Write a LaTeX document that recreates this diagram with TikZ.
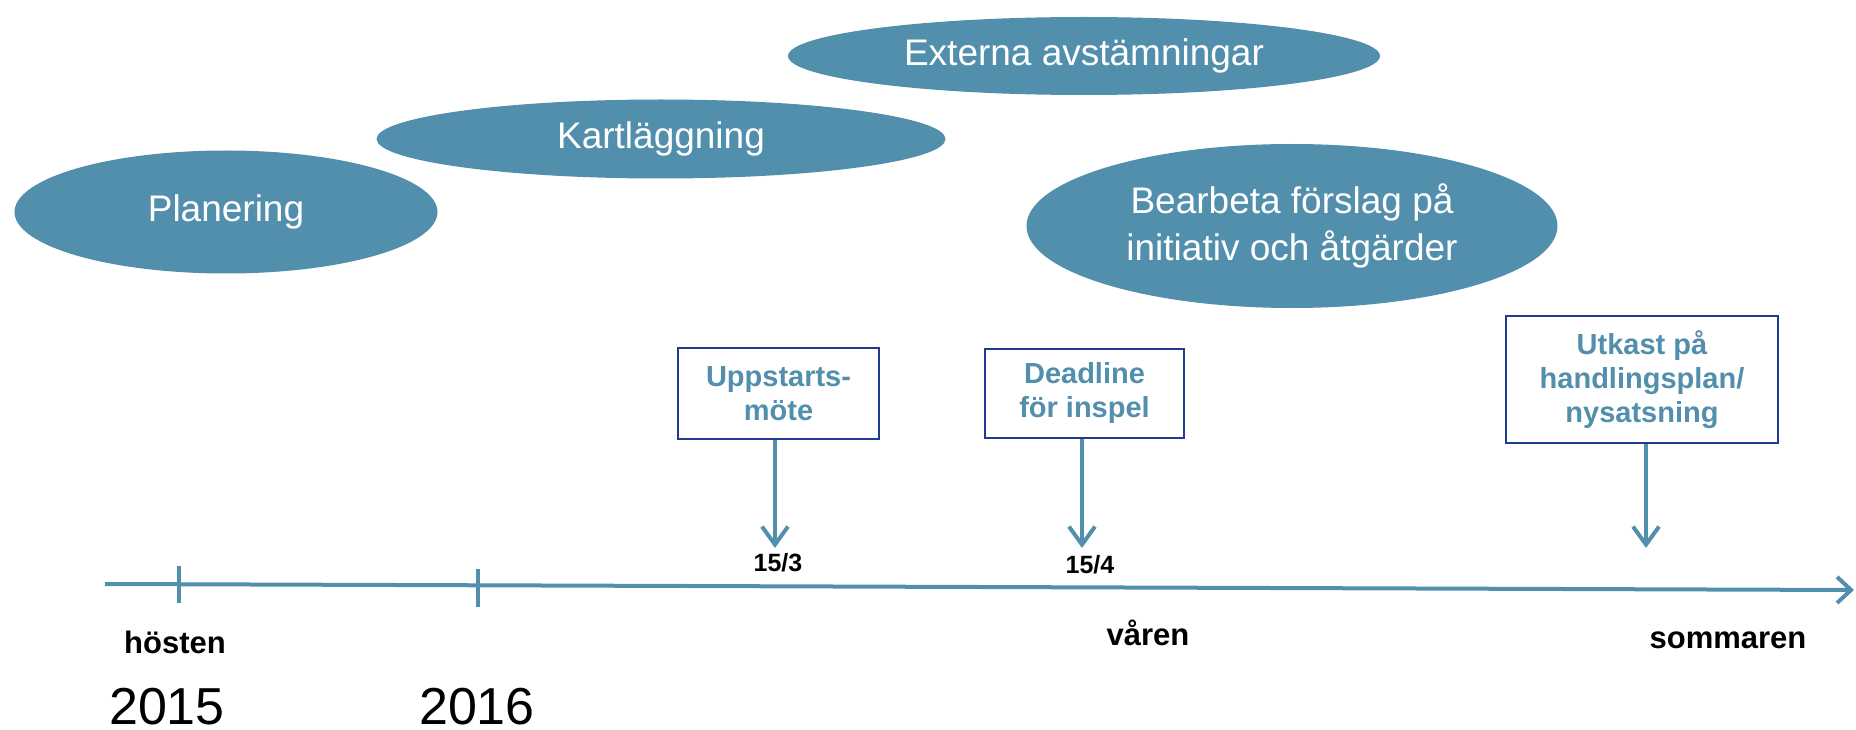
\documentclass[tikz,border=0pt]{standalone}
\usepackage{fontspec}
\setmainfont{Liberation Sans}
\usetikzlibrary{shapes.geometric,arrows.meta}
\definecolor{teal1}{HTML}{528FAC}
\definecolor{boxblue}{HTML}{1F3C8F}
\tikzset{
  phase/.style={ellipse, fill=teal1, draw=none, inner sep=0pt, text=white, align=center, font=\fontsize{37}{47}\selectfont},
  mile/.style={rectangle, draw=boxblue, line width=2pt, fill=white, inner sep=0pt, text=teal1, align=center, font=\fontsize{29}{34}\selectfont\bfseries},
  marker/.style={draw=teal1, line width=4pt, -{Straight Barb[length=18pt,width=26pt,line width=4pt]}},
  axisline/.style={draw=teal1, line width=4pt, -{Straight Barb[length=14pt,width=26pt,line width=4pt]}},
  tickline/.style={draw=teal1, line width=4pt},
  lab/.style={font=\fontsize{31}{36}\selectfont\bfseries, inner sep=0pt},
  datelab/.style={font=\fontsize{25}{30}\selectfont\bfseries, inner sep=0pt},
  yearlab/.style={font=\fontsize{52}{60}\selectfont, inner sep=0pt}
}
\begin{document}
\begin{tikzpicture}[x=1pt,y=-1pt]
\useasboundingbox (0,0) rectangle (1856,730);
% phases
\node[phase, minimum width=423pt, minimum height=123pt] (plan) at (226,212) {Planering};
\node[phase, minimum width=569pt, minimum height=79pt] (kart) at (661,139) {Kartläggning};
\node[phase, minimum width=592pt, minimum height=78pt] (ext) at (1084,56) {Externa avstämningar};
\node[phase, minimum width=531pt, minimum height=164pt] (bear) at (1292,226) {Bearbeta förslag på\\initiativ och åtgärder};
% milestones
\node[mile, minimum width=201pt, minimum height=91pt] (upp) at (778.5,393.5) {Uppstarts-\\möte};
\node[mile, minimum width=199pt, minimum height=89pt] (dead) at (1084.5,393.5) {Deadline\\för inspel};
\node[mile, minimum width=272pt, minimum height=127pt] (utk) at (1642,379.5) {Utkast på\\handlingsplan/\\nysatsning};
\coordinate (uppE) at (775,548);
\coordinate (deadE) at (1082,548);
\coordinate (utkE) at (1646,548);
\draw[marker] (upp.south -| uppE) -- (uppE);
\draw[marker] (dead.south -| deadE) -- (deadE);
\draw[marker] (utk.south -| utkE) -- (utkE);
% axis
\coordinate (a0) at (105,584);
\coordinate (a1) at (1854,590);
\draw[axisline] (a0) -- (a1);
\coordinate (t1a) at (179,566);
\coordinate (t1b) at (179,603);
\coordinate (t2a) at (478,569);
\coordinate (t2b) at (478,607);
\draw[tickline] (t1a) -- (t1b);
\draw[tickline] (t2a) -- (t2b);
% labels
\node[datelab] (d1) at (778,563) {15/3};
\node[datelab] (d2) at (1090,565) {15/4};
\node[lab] (host) at (175,642) {hösten};
\node[lab] (var) at (1148,633) {våren};
\node[lab] (som) at (1728,640) {sommaren};
\node[yearlab] (y15) at (167,707) {2015};
\node[yearlab] (y16) at (477,707) {2016};
\end{tikzpicture}
\end{document}
